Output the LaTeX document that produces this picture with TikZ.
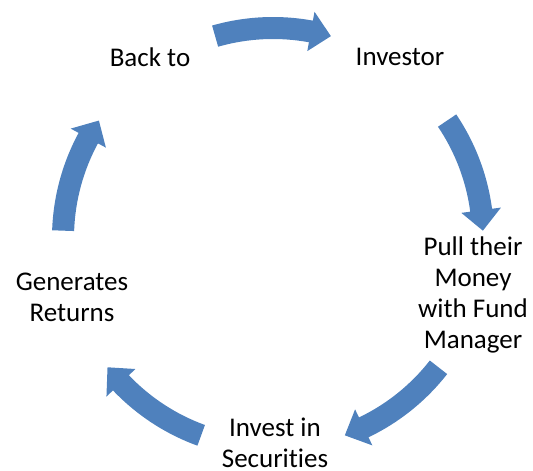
\documentclass[tikz,border=0pt]{standalone}
\usepackage{fontspec}
\setmainfont{Carlito}[Ligatures=NoCommon]
\definecolor{arrowblue}{HTML}{4F81BD}
\tikzset{
  lbl/.style={align=center,font=\fontsize{27}{31}\selectfont,text=black,inner sep=0pt},
}
\begin{document}
\begin{tikzpicture}[x=1pt,y=1pt]
\useasboundingbox (0,0) rectangle (533,471);
\coordinate (C) at (273,233);
\foreach \c in {90,18,-54,-126,162}{
  \pgfmathsetmacro\s{\c+16}
  \pgfmathsetmacro\t{\c-16}
  \pgfmathsetmacro\b{\c-16+5.6}
  \fill[arrowblue] ([shift={(\s:221)}]C) arc[start angle=\s, end angle=\b, radius=221]
    -- ([shift={(\b:230)}]C) -- ([shift={(\t:210)}]C) -- ([shift={(\b:190)}]C)
    -- ([shift={(\b:199)}]C) arc[start angle=\b, end angle=\s, radius=199] -- cycle;
}
\node[lbl] (back) at (150,414) {Back to};
\node[lbl] (inv) at (400,414) {Investor};
\node[lbl] (pull) at (473,176) {Pull their\\Money\\with Fund\\Manager};
\node[lbl] (sec) at (275,28) {Invest in\\Securities};
\node[lbl] (gen) at (72,174) {Generates\\Returns};
\end{tikzpicture}
\end{document}
